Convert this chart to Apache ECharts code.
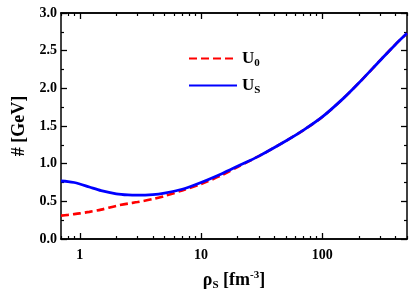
<!DOCTYPE html>
<html><head><meta charset="utf-8">
<script src="https://cdn.jsdelivr.net/npm/echarts@6/dist/echarts.min.js"></script>
<style>html,body{margin:0;padding:0;background:#fff}#c{width:409px;height:297px}</style>
</head><body><div id="c"></div>
<script>
const xValues = [0.7, 0.8, 0.9, 1.0, 1.2, 1.5, 2.0, 2.5, 3.0, 4.0, 5.0, 7.0, 10, 15, 20, 30, 50, 70, 100, 150, 200, 300, 400, 500];
const usValues = [0.77, 0.763, 0.75, 0.73, 0.69, 0.642, 0.60, 0.585, 0.582, 0.59, 0.61, 0.66, 0.75, 0.87, 0.965, 1.10, 1.30, 1.445, 1.62, 1.87, 2.07, 2.37, 2.58, 2.73];
const u0Values = [0.31, 0.32, 0.33, 0.34, 0.36, 0.39, 0.44, 0.47, 0.49, 0.53, 0.57, 0.645, 0.73, 0.85, 0.955, 1.10, 1.30, 1.445, 1.62, 1.87, 2.07, 2.37, 2.58, 2.73];
const xMajorTicks = [1, 10, 100];
const xMinorTicks = [0.7, 0.8, 0.9, 2, 3, 4, 5, 6, 7, 8, 9, 20, 30, 40, 50, 60, 70, 80, 90, 200, 300, 400, 500];

const serif = 'Liberation Serif';
const chart = echarts.init(document.getElementById('c'));
const axisLine = {show: true, onZero: false, lineStyle: {color: '#000', width: 1.5}};
const logBase = {type: 'log', logBase: 10, min: 0.7, max: 500, gridIndex: 0, splitLine: {show: false}, axisLine: axisLine};
chart.setOption({
  animation: false,
  grid: {left: 61, right: 2, top: 13, bottom: 58},
  legend: {
    orient: 'vertical', left: 183, top: 45, itemWidth: 48, itemHeight: 14, itemGap: 8,
    data: ['U0', 'US'],
    itemStyle: {opacity: 0},
    formatter: function (n) { return '{u|U}{s|' + n.slice(1) + '}'; },
    textStyle: {
      rich: {
        u: {fontFamily: serif, fontWeight: 'bold', fontSize: 17, color: '#000'},
        s: {fontFamily: serif, fontWeight: 'bold', fontSize: 11, color: '#000', padding: [10, 0, 0, 0]}
      }
    }
  },
  xAxis: [
    Object.assign({}, logBase, {
      position: 'bottom',
      name: '{a|ρ}{s|S}{a| [fm}{p|-3}{a|]}', nameLocation: 'middle', nameGap: 31,
      nameTextStyle: {rich: {
        a: {fontFamily: serif, fontWeight: 'bold', fontSize: 18, color: '#000'},
        s: {fontFamily: serif, fontWeight: 'bold', fontSize: 11, color: '#000', padding: [10, 0, 0, 0]},
        p: {fontFamily: serif, fontWeight: 'bold', fontSize: 11, color: '#000', padding: [0, 0, 10, 0]}
      }},
      axisTick: {show: true, inside: true, length: 6, lineStyle: {color: '#000', width: 1.3}, customValues: xMajorTicks},
      axisLabel: {show: true, customValues: xMajorTicks, margin: 9, fontFamily: serif, fontWeight: 'bold', fontSize: 14, color: '#000'}
    }),
    Object.assign({}, logBase, {
      position: 'bottom',
      axisTick: {show: true, inside: true, length: 3, lineStyle: {color: '#000', width: 1.2}, customValues: xMinorTicks},
      axisLabel: {show: false}
    }),
    Object.assign({}, logBase, {
      position: 'top',
      axisTick: {show: true, inside: true, length: 6, lineStyle: {color: '#000', width: 1.3}, customValues: xMajorTicks},
      axisLabel: {show: false}
    }),
    Object.assign({}, logBase, {
      position: 'top',
      axisTick: {show: true, inside: true, length: 3, lineStyle: {color: '#000', width: 1.2}, customValues: xMinorTicks},
      axisLabel: {show: false}
    })
  ],
  yAxis: [
    {
      type: 'value', min: 0, max: 3, interval: 0.5, position: 'left',
      name: '# [GeV]', nameLocation: 'middle', nameGap: 28,
      nameTextStyle: {fontFamily: serif, fontWeight: 'bold', fontSize: 18, color: '#000'},
      splitLine: {show: false}, axisLine: axisLine,
      axisTick: {show: true, inside: true, length: 6, lineStyle: {color: '#000', width: 1.3}},
      minorTick: {show: true, splitNumber: 2, length: 3, lineStyle: {color: '#000', width: 1.2}},
      axisLabel: {margin: 4, fontFamily: serif, fontWeight: 'bold', fontSize: 14, color: '#000',
        formatter: function (v) { return v.toFixed(1); }}
    },
    {
      type: 'value', min: 0, max: 3, interval: 0.5, position: 'right',
      splitLine: {show: false}, axisLine: axisLine,
      axisTick: {show: true, inside: true, length: 6, lineStyle: {color: '#000', width: 1.3}},
      minorTick: {show: true, splitNumber: 2, length: 3, lineStyle: {color: '#000', width: 1.2}},
      axisLabel: {show: false}
    }
  ],
  series: [
    {
      name: 'U0', type: 'line', xAxisIndex: 0, yAxisIndex: 0, smooth: 0.3, symbol: 'none',
      data: xValues.map((x, i) => [x, u0Values[i]]),
      lineStyle: {color: '#ff0000', width: 2.6, type: [8, 4]}, itemStyle: {color: '#ff0000'}, z: 2
    },
    {
      name: 'US', type: 'line', xAxisIndex: 0, yAxisIndex: 0, smooth: 0.3, symbol: 'none',
      data: xValues.map((x, i) => [x, usValues[i]]),
      lineStyle: {color: '#0000ff', width: 2.8}, itemStyle: {color: '#0000ff'}, z: 3
    }
  ]
});
</script></body></html>
